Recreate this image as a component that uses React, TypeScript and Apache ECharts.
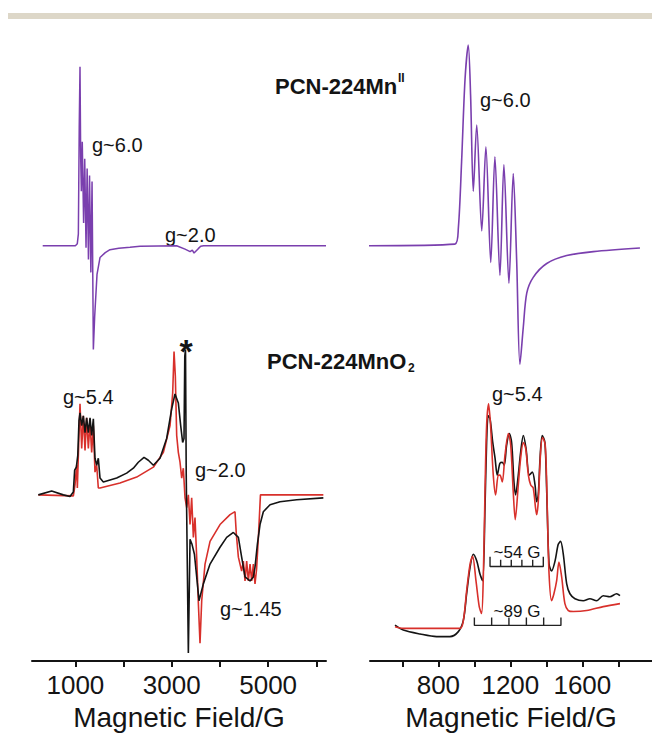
import React, { useEffect, useRef } from "react";
import * as echarts from "echarts";

type Pt = [number, number];

// ---------- Data: magnetic field (G) vs. EPR signal (arbitrary units, baseline = 0) ----------
// Left panel: full sweep
const leftMnIISpectrum: Pt[] = [
  [322, 0], [1000, 0], [1040, 2], [1062, 12], [1080, 120], [1096, 181], [1110, 90], [1124, 55],
  [1143, 105], [1171, 23], [1194, 88], [1221, -2], [1244, 78], [1271, -14], [1294, 71],
  [1321, -27], [1346, 65], [1373, -105], [1400, -72], [1449, -29], [1511, -12], [1620, -7],
  [1718, -4], [1900, -2.5], [2133, -1.5], [2341, -0.5], [3100, 0], [3275, -3.5], [3380, -6],
  [3427, -4.5], [3462, -7.5], [3550, -3], [3600, -0.5], [3660, 0], [6200, 0],
];

const leftMnO2Simulated: Pt[] = [
  [231, 0], [958, -1], [992, 10], [1027, 30], [1041, 7], [1068, 50], [1096, 92], [1131, 47],
  [1165, 80], [1200, 45], [1234, 78], [1269, 47], [1304, 73], [1338, 43], [1373, 70],
  [1407, 23], [1442, 30], [1476, 7], [1511, 7], [1926, 12], [2272, 18], [2618, 28],
  [2826, 43], [2964, 70], [3019, 103], [3047, 145], [3074, 120], [3102, 60], [3136, 43],
  [3171, 33], [3206, 17], [3240, 27], [3275, -3], [3310, -13], [3344, 0], [3379, -30],
  [3413, -3], [3448, -43], [3482, -23], [3517, -63], [3552, -110], [3586, -150],
  [3621, -107], [3690, -70], [3794, -47], [4001, -30], [4209, -20], [4312, -17],
  [4340, -40], [4382, -63], [4450, -77], [4485, -67], [4520, -87], [4554, -67],
  [4589, -87], [4624, -70], [4658, -87], [4693, -70], [4727, -90], [4760, -75],
  [4800, -40], [4840, 0], [6145, 0],
];

const leftMnO2Experimental: Pt[] = [
  [231, 0], [508, 4], [750, 0], [888, -1.7], [958, 3], [985, 25], [1020, 28], [1050, 40],
  [1075, 75], [1096, 83], [1131, 70], [1165, 80], [1200, 63], [1234, 78], [1269, 63],
  [1304, 78], [1338, 60], [1373, 77], [1407, 37], [1442, 30], [1476, 37], [1511, 17],
  [1580, 13], [1719, 15], [1857, 17], [2064, 22], [2203, 27], [2306, 33], [2424, 38],
  [2514, 35], [2618, 30], [2756, 37], [2894, 57], [2998, 87], [3067, 102], [3136, 93],
  [3185, 70], [3226, 53], [3254, 57], [3270, 140], [3285, 147], [3300, 20], [3344, -160],
  [3379, -45], [3420, -50], [3470, -60], [3517, -83], [3565, -107], [3655, -90],
  [3794, -70], [4001, -53], [4139, -43], [4278, -38], [4382, -43], [4450, -63],
  [4520, -83], [4624, -87], [4693, -83], [4727, -73], [4776, -50], [4831, -30],
  [4900, -17], [5039, -10], [5246, -7], [5592, -5], [6145, -3],
];

// Right panel: low-field region
const rightMnIISpectrum: Pt[] = [
  [374, 0], [892, 1.6], [911, 18], [929, 85], [948, 168], [966, 203], [979, 152], [994, 55],
  [1013, 122], [1041, 15], [1064, 100], [1091, -17], [1114, 90], [1142, -30], [1164, 82],
  [1192, -38], [1216, 73], [1235, -15], [1253, -120], [1272, -82], [1291, -48], [1327, -32],
  [1402, -18], [1513, -10], [1661, -6], [1920, -2.4],
];

const rightMnO2Experimental: Pt[] = [
  [559, 3.3], [605, -1.7], [698, -5.7], [790, -8.3], [864, -8.3], [911, -3.3], [939, 8.3],
  [957, 35], [976, 61.7], [994, 75], [1013, 68.3], [1031, 55], [1046, 48.3], [1059, 122],
  [1068, 188], [1077, 215], [1087, 212], [1102, 188], [1115, 172], [1127, 155], [1142, 167],
  [1155, 168], [1166, 165], [1179, 185], [1194, 197], [1207, 188], [1220, 148], [1229, 135],
  [1244, 155], [1257, 178], [1272, 195], [1287, 182], [1305, 155], [1322, 158], [1337, 145],
  [1346, 128], [1355, 135], [1365, 172], [1377, 195], [1392, 188], [1402, 138], [1415, 65],
  [1429, 58], [1448, 68], [1466, 85], [1479, 88], [1494, 75], [1513, 45], [1531, 35],
  [1559, 30], [1605, 28], [1642, 30], [1679, 28], [1716, 33], [1753, 32], [1790, 35],
  [1809, 33],
];

const rightMnO2Simulated: Pt[] = [
  [559, 1.7], [605, 0], [920, 0], [939, 8.3], [957, 38], [976, 65], [990, 73], [1009, 48],
  [1027, 22], [1040, 15], [1050, 55], [1059, 138], [1068, 205], [1079, 227], [1090, 205],
  [1105, 155], [1118, 135], [1133, 155], [1142, 155], [1155, 148], [1170, 175], [1189, 197],
  [1202, 185], [1216, 138], [1227, 110], [1244, 145], [1257, 172], [1272, 188], [1285, 182],
  [1300, 155], [1313, 145], [1327, 142], [1346, 115], [1355, 128], [1368, 178], [1379, 193],
  [1394, 185], [1405, 122], [1415, 55], [1429, 28], [1442, 35], [1457, 48], [1470, 67],
  [1485, 52], [1503, 25], [1522, 18], [1550, 17], [1624, 18], [1716, 22], [1809, 25],
];

// Hyperfine splitting scale bars (field positions, G)
const hyperfine54Ticks = [1087, 1146, 1205, 1264, 1324, 1383];
const hyperfine89Ticks = [1000, 1096, 1192, 1289, 1385, 1481];

// Axis ticks and labels
const leftTicks = [1000, 2000, 3000, 4000, 5000, 6000];
const leftTickLabels = [1000, 3000, 5000];
const rightTicks = [600, 800, 1000, 1200, 1400, 1600, 1800];
const rightTickLabels = [800, 1200, 1600];

// ---------- Layout (plot units = pixels above the axis line) ----------
const PLOT_H = 628;
const OFF_TOP = 420;
const OFF_LEFT_BOTTOM = 168;
const OFF_RIGHT_BOTTOM = 33;

const PURPLE = "#7a3fae";
const RED = "#d8302b";
const BLACK = "#141414";
const FONT = "'Liberation Sans', Arial, Helvetica, sans-serif";

const shift = (d: Pt[], off: number): Pt[] => d.map(([x, y]) => [x, y + off]);

function bracket(ticks: number[], base: number, endH: number, innerH: number): Pt[] {
  const pts: Pt[] = [];
  ticks.forEach((t, i) => {
    const last = ticks.length - 1;
    if (i === 0) pts.push([t, base + endH], [t, base]);
    else if (i === last) pts.push([t, base], [t, base + endH]);
    else pts.push([t, base], [t, base + innerH], [t, base]);
  });
  return pts;
}

function xAxis(gridIndex: number, min: number, max: number, ticks: number[], labels: number[]) {
  return {
    gridIndex,
    type: "value",
    min,
    max,
    position: "bottom",
    axisLine: { show: true, onZero: false, lineStyle: { color: BLACK, width: 2 } },
    axisTick: { show: true, inside: false, length: 6, customValues: ticks, lineStyle: { color: BLACK, width: 2 } },
    axisLabel: {
      show: true,
      customValues: labels,
      formatter: (v: number) => String(v),
      fontSize: 26,
      color: BLACK,
      fontFamily: FONT,
      margin: 11,
    },
    splitLine: { show: false },
    name: "Magnetic Field/G",
    nameLocation: "middle",
    nameGap: 42,
    nameTextStyle: { fontSize: 28, color: BLACK, fontFamily: FONT },
  };
}

function line(name: string, data: Pt[], color: string, axis: number, extra: any = {}) {
  return {
    name,
    type: "line",
    xAxisIndex: axis,
    yAxisIndex: axis,
    data,
    symbol: "none",
    showSymbol: false,
    silent: true,
    lineStyle: { color, width: 1.6 },
    itemStyle: { color },
    ...extra,
  };
}

function label(text: string, x: number, y: number, size = 20, bold = false, align = "left") {
  return {
    type: "text",
    x,
    y,
    silent: true,
    style: {
      text,
      fill: BLACK,
      fontSize: size,
      fontWeight: bold ? "bold" : "normal",
      fontFamily: FONT,
      align,
      textAlign: align,
      verticalAlign: "middle",
      textVerticalAlign: "middle",
    },
  };
}

export default function App() {
  const ref = useRef<HTMLDivElement>(null);

  useEffect(() => {
    if (!ref.current) return;
    const chart = echarts.init(ref.current, null, { renderer: "svg" });
    const option: any = {
      animation: false,
      backgroundColor: "#ffffff",
      grid: [
        { left: 32, width: 294, top: 40, height: PLOT_H },
        { left: 370, width: 282, top: 40, height: PLOT_H },
      ],
      xAxis: [
        xAxis(0, 100, 6200, leftTicks, leftTickLabels),
        xAxis(1, 420, 1987, rightTicks, rightTickLabels),
      ],
      yAxis: [
        { gridIndex: 0, type: "value", min: 0, max: PLOT_H, show: false },
        { gridIndex: 1, type: "value", min: 0, max: PLOT_H, show: false },
      ],
      series: [
        line("PCN-224MnII wide", shift(leftMnIISpectrum, OFF_TOP), PURPLE, 0, { lineStyle: { color: PURPLE, width: 1.5 } }),
        line("PCN-224MnO2 sim wide", shift(leftMnO2Simulated, OFF_LEFT_BOTTOM), RED, 0),
        line("PCN-224MnO2 exp wide", shift(leftMnO2Experimental, OFF_LEFT_BOTTOM), BLACK, 0),
        line("PCN-224MnII zoom", shift(rightMnIISpectrum, OFF_TOP), PURPLE, 1, { smooth: 0.3, clip: false }),
        line("PCN-224MnO2 exp zoom", shift(rightMnO2Experimental, OFF_RIGHT_BOTTOM), BLACK, 1, { smooth: 0.3 }),
        line("PCN-224MnO2 sim zoom", shift(rightMnO2Simulated, OFF_RIGHT_BOTTOM), RED, 1, { smooth: 0.3 }),
        line("54 G bar", bracket(hyperfine54Ticks, 95.5, 10, 7), BLACK, 1, { lineStyle: { color: "#222", width: 1.4 } }),
        line("89 G bar", bracket(hyperfine89Ticks, 36, 8, 8), BLACK, 1, { lineStyle: { color: "#222", width: 1.4 } }),
      ],
      graphic: [
        { type: "rect", silent: true, shape: { x: 8, y: 13, width: 644, height: 6 }, style: { fill: "#ddd7c8" } },
        label("PCN-224Mn", 275, 86, 22, true),
        label("II", 398, 78, 12, true),
        label("PCN-224MnO", 267, 361, 22, true),
        label("2", 408, 368, 12, true),
        label("g~6.0", 92, 145),
        label("g~2.0", 165, 235),
        label("g~6.0", 480, 100),
        label("g~5.4", 492, 394),
        label("g~5.4", 63, 397),
        label("*", 186, 351, 34, true, "center"),
        label("g~2.0", 195, 470),
        label("g~1.45", 220, 609),
        label("~54 G", 517, 552, 17, false, "center"),
        label("~89 G", 517, 611, 17, false, "center"),
      ],
    };
    chart.setOption(option);
    return () => chart.dispose();
  }, []);

  return (
    <div
      ref={ref}
      style={{ position: "fixed", left: 0, top: 0, width: 652, height: 736, background: "#fff" }}
    />
  );
}
